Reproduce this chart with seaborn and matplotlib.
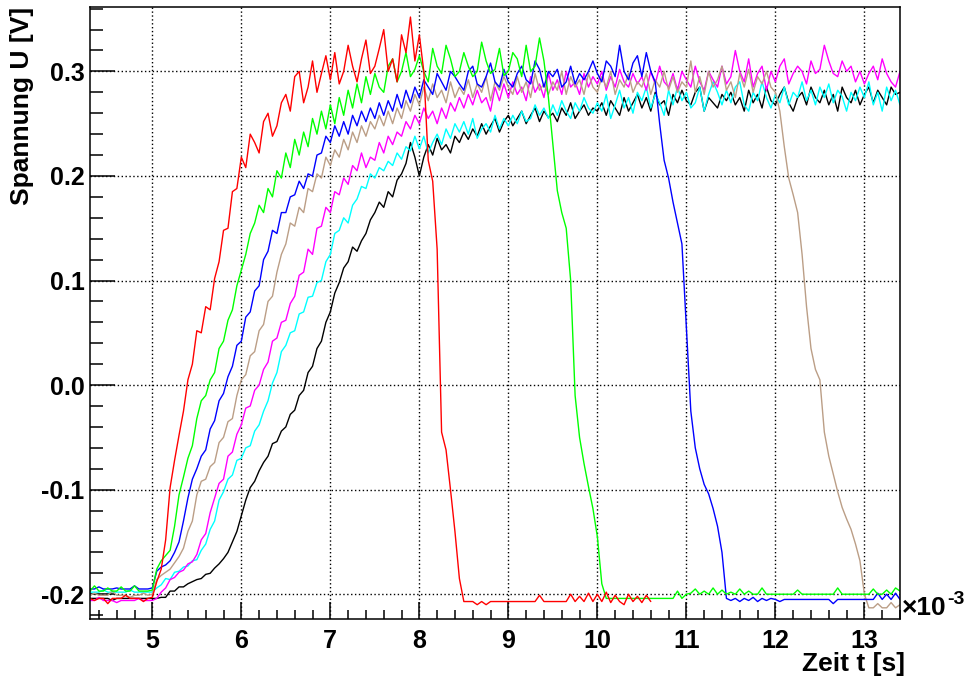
import matplotlib.pyplot as plt
import numpy as np
import pandas as pd
import seaborn as sns
from matplotlib.ticker import MultipleLocator, FormatStrFormatter

sns.set_style('ticks')
plt.rcParams.update(
    {
        'font.family': ['Liberation Sans', 'DejaVu Sans'],
        'font.weight': 'bold',
        'axes.unicode_minus': False,
        'text.color': 'black',
        'axes.edgecolor': 'black',
        'xtick.color': 'black',
        'ytick.color': 'black',
    }
)

# %%
# sampling grid in ms (plotted as 1e-3 s)
t_ms = np.round(np.arange(4.30, 13.4001, 0.05), 2)

# voltages in mV (first 14 values: 4.30-4.95 ms,
# then rows of 10 samples starting at 5.00 ms)
red = [-204, -206, -204, -204, -209, -204, -204, -204, -201, -204, -204, -204, -207, -204,
       -203, -188, -176, -148, -98, -72, -48, -25, 5, 20,
       52, 50, 75, 72, 102, 118, 148, 150, 185, 188,
       218, 208, 240, 232, 222, 252, 260, 238, 248, 270,
       278, 262, 295, 300, 270, 285, 310, 280, 298, 315,
       292, 318, 288, 300, 325, 305, 290, 312, 330, 298,
       305, 322, 340, 300, 312, 290, 335, 318, 352, 310,
       335, 300, 215, 195, 130, -45, -62, -100, -140, -185,
       -207, -207, -207, -210, -207, -210, -207, -207, -207, -207,
       -207, -207, -207, -207, -207, -207, -207, -201, -207, -207,
       -207, -207, -207, -207, -200, -207, -202, -207, -199, -207,
       -200, -207, -198, -208, -201, -207, -210, -200, -207, -202,
       -208, -201, -207]

green = [-197, -192, -197, -197, -194, -197, -197, -193, -197, -197, -192, -197, -197, -197,
         -196, -176, -168, -163, -158, -135, -105, -88, -70, -58,
         -32, -15, -10, 5, 12, 35, 42, 62, 72, 95,
         110, 125, 145, 155, 172, 165, 188, 180, 205, 198,
         222, 208, 235, 220, 242, 228, 255, 240, 262, 245,
         268, 250, 275, 258, 282, 265, 288, 270, 295, 278,
         298, 285, 280, 305, 312, 290, 300, 318, 295, 302,
         315, 300, 290, 322, 305, 298, 325, 312, 295, 300,
         318, 305, 295, 300, 328, 310, 298, 302, 322, 296,
         300, 318, 312, 295, 325, 300, 305, 332, 310, 275,
         230, 186, 165, 150, 100, -10, -50, -75, -97, -118,
         -145, -190, -204, -204, -204, -204, -204, -204, -204, -204,
         -204, -204, -204, -204, -204, -204, -204, -204, -197, -204,
         -200, -199, -195, -200, -197, -200, -194, -200, -196, -200,
         -198, -200, -195, -200, -197, -200, -200, -194, -200, -200,
         -200, -200, -200, -200, -200, -196, -200, -200, -200, -200,
         -200, -200, -200, -200, -194, -200, -200, -200, -200, -200,
         -200, -200, -195, -200, -200, -196, -200, -194, -197]

blue = [-195, -195, -193, -195, -195, -195, -194, -195, -195, -195, -192, -195, -195, -195,
        -194, -178, -174, -172, -168, -160, -150, -130, -108, -90,
        -80, -68, -62, -42, -34, -15, -8, 8, 18, 38,
        42, 65, 70, 90, 95, 120, 128, 148, 145, 165,
        165, 180, 182, 195, 188, 202, 200, 220, 222, 238,
        232, 248, 238, 252, 240, 258, 248, 262, 252, 265,
        255, 270, 258, 272, 262, 278, 265, 282, 270, 285,
        275, 292, 285, 278, 298, 290, 282, 300, 295, 288,
        282, 300, 305, 288, 285, 295, 308, 290, 285, 302,
        290, 285, 298, 305, 292, 288, 310, 302, 285, 300,
        295, 302, 285, 290, 305, 288, 298, 292, 300, 310,
        298, 290, 310, 305, 295, 325, 300, 292, 308, 315,
        295, 318, 300, 290, 250, 215, 198, 175, 155, 135,
        55, -25, -60, -80, -95, -104, -118, -135, -160, -204,
        -206, -204, -207, -204, -206, -203, -207, -204, -206, -204,
        -205, -207, -205, -205, -205, -205, -205, -205, -205, -205,
        -205, -205, -205, -209, -205, -205, -205, -205, -205, -205,
        -205, -205, -205, -199, -205, -200, -205, -199, -205]

tan = [-201, -199, -201, -201, -201, -197, -201, -201, -201, -203, -201, -201, -199, -201,
       -200, -186, -182, -179, -176, -170, -164, -156, -140, -130,
       -105, -92, -90, -78, -74, -55, -50, -35, -32, -10,
       5, 10, 28, 32, 52, 58, 80, 85, 108, 125,
       135, 155, 152, 170, 165, 188, 185, 202, 198, 218,
       210, 225, 218, 235, 225, 242, 232, 248, 238, 252,
       245, 258, 248, 262, 250, 265, 255, 272, 262, 278,
       268, 285, 272, 288, 275, 282, 270, 290, 275, 285,
       278, 292, 275, 288, 280, 295, 272, 290, 282, 295,
       285, 278, 295, 280, 290, 275, 298, 282, 288, 278,
       290, 282, 300, 278, 295, 285, 292, 278, 298, 285,
       280, 295, 285, 300, 278, 292, 285, 298, 280, 290,
       285, 298, 278, 292, 285, 300, 282, 295, 280, 290,
       285, 310, 280, 295, 278, 300, 285, 292, 305, 282,
       290, 275, 298, 285, 302, 280, 295, 288, 300, 285,
       280, 262, 228, 198, 182, 165, 125, 75, 35, 15,
       5, -45, -68, -85, -102, -117, -128, -138, -152, -168,
       -200, -213, -213, -209, -213, -213, -208, -213, -210]

magenta = [-206, -206, -203, -206, -206, -206, -208, -206, -206, -206, -206, -204, -206, -206,
           -206, -204, -198, -194, -186, -184, -179, -177, -171, -169,
           -162, -148, -142, -122, -108, -94, -90, -68, -64, -47,
           -38, -22, -20, -5, 0, 15, 22, 42, 45, 60,
           62, 78, 85, 105, 108, 130, 125, 150, 152, 170,
           165, 185, 182, 198, 192, 210, 205, 222, 208, 218,
           215, 232, 222, 238, 230, 242, 238, 252, 245, 258,
           250, 265, 255, 262, 250, 265, 255, 270, 262, 275,
           265, 278, 268, 282, 270, 275, 262, 285, 272, 288,
           275, 290, 278, 285, 272, 295, 280, 288, 275, 298,
           282, 292, 278, 300, 285, 290, 278, 298, 285, 295,
           288, 300, 282, 295, 285, 302, 290, 285, 298, 288,
           295, 282, 300, 288, 305, 290, 285, 298, 282, 300,
           292, 285, 305, 290, 282, 300, 292, 285, 305, 288,
           295, 320, 300, 290, 312, 285, 298, 305, 282, 300,
           290, 305, 312, 288, 298, 305, 300, 288, 310, 298,
           302, 325, 310, 298, 295, 310, 300, 305, 290, 300,
           288, 298, 305, 292, 312, 298, 290, 285, 300]

cyan = [-198, -198, -198, -196, -198, -198, -198, -198, -198, -196, -198, -198, -198, -198,
        -198, -194, -191, -185, -186, -179, -178, -174, -173, -168,
        -167, -158, -152, -138, -130, -110, -102, -90, -86, -72,
        -70, -60, -58, -44, -38, -25, -15, 2, 12, 32,
        38, 50, 52, 68, 70, 84, 85, 98, 100, 118,
        125, 145, 148, 160, 155, 172, 178, 190, 188, 202,
        198, 208, 205, 214, 210, 222, 216, 228, 224, 238,
        226, 238, 222, 232, 240, 230, 245, 236, 250, 242,
        252, 240, 255, 236, 245, 250, 242, 258, 245, 255,
        248, 258, 250, 262, 252, 255, 268, 258, 265, 255,
        268, 258, 272, 262, 255, 270, 262, 275, 265, 260,
        270, 262, 278, 255, 268, 282, 265, 275, 260, 280,
        272, 285, 265, 278, 270, 258, 282, 268, 285, 272,
        280, 265, 270, 285, 262, 278, 290, 280, 268, 282,
        270, 285, 290, 268, 262, 280, 272, 290, 275, 265,
        278, 270, 285, 268, 280, 275, 290, 272, 282, 268,
        285, 275, 288, 270, 282, 276, 262, 280, 272, 285,
        275, 290, 268, 280, 262, 285, 272, 282, 268]

black = [-204, -204, -204, -204, -204, -206, -204, -204, -204, -204, -204, -204, -204, -204,
         -204, -204, -203, -203, -197, -197, -193, -193, -190, -188,
         -186, -185, -181, -180, -175, -171, -166, -160, -150, -140,
         -125, -110, -98, -92, -82, -74, -68, -56, -54, -44,
         -40, -28, -24, -10, -5, 12, 18, 35, 42, 60,
         70, 88, 98, 112, 118, 132, 128, 138, 145, 158,
         165, 175, 170, 185, 180, 196, 202, 212, 232, 218,
         200, 218, 230, 220, 236, 225, 230, 222, 238, 232,
         242, 235, 245, 238, 250, 240, 248, 255, 242, 252,
         258, 248, 255, 262, 250, 258, 265, 252, 262, 256,
         260, 252, 265, 258, 270, 255, 262, 268, 258, 265,
         262, 270, 258, 272, 265, 258, 275, 262, 270, 278,
         265, 275, 262, 280, 268, 272, 258, 278, 270, 282,
         272, 268, 280, 285, 262, 275, 270, 265, 278, 272,
         280, 268, 275, 262, 282, 270, 278, 265, 285, 272,
         268, 278, 285, 270, 262, 275, 280, 268, 285, 275,
         270, 282, 268, 278, 262, 285, 275, 270, 282, 268,
         278, 285, 270, 282, 275, 268, 285, 278, 280]

traces = {
    'black': black,
    'cyan': cyan,
    'magenta': magenta,
    'tan': tan,
    'blue': blue,
    'green': green,
    'red': red,
}
palette = {
    'black': '#000000',
    'cyan': '#00ffff',
    'magenta': '#ff00ff',
    'tan': '#bb9e86',
    'blue': '#0000ff',
    'green': '#00ff00',
    'red': '#ff0000',
}

frames = []
for name, vals in traces.items():
    n = len(vals)
    frames.append(
        pd.DataFrame({'t': t_ms[:n], 'U': np.array(vals) / 1000.0, 'trace': name})
    )
df = pd.concat(frames, ignore_index=True)

# %%
fig = plt.figure(figsize=(9.69, 6.81), dpi=100)
ax = fig.add_axes([90 / 969, 62 / 681, 810 / 969, 612 / 681])

sns.lineplot(
    data=df,
    x='t',
    y='U',
    hue='trace',
    hue_order=list(traces.keys()),
    palette=palette,
    estimator=None,
    sort=False,
    lw=1.0,
    legend=False,
    ax=ax,
)

ax.set_xlim(4.30, 13.40)
ax.set_ylim(-0.2237, 0.3616)
ax.xaxis.set_major_locator(MultipleLocator(1))
ax.xaxis.set_minor_locator(MultipleLocator(0.2))
ax.yaxis.set_major_locator(MultipleLocator(0.1))
ax.yaxis.set_minor_locator(MultipleLocator(0.02))
ax.xaxis.set_major_formatter(FormatStrFormatter('%d'))
ax.yaxis.set_major_formatter(FormatStrFormatter('%.1f'))

ax.tick_params(axis='both', which='both', direction='in', width=1.1,
               top=False, right=False, labelsize=18)
ax.tick_params(axis='x', which='major', length=12.5, pad=7)
ax.tick_params(axis='x', which='minor', length=6.5)
ax.tick_params(axis='y', which='major', length=18, pad=4)
ax.tick_params(axis='y', which='minor', length=9.4)
for lab in ax.get_xticklabels() + ax.get_yticklabels():
    lab.set_fontweight('bold')

for sp in ax.spines.values():
    sp.set_visible(True)
    sp.set_linewidth(1.1)
    sp.set_color('black')

ax.grid(True, which='major', color='black', ls=(0, (1, 1.8)), lw=1.0)
ax.set_xlabel('')
ax.set_ylabel('')

fig.text(22 / 969, 1 - 7 / 681, 'Spannung U [V]', rotation=90, ha='center',
         va='top', fontsize=19, fontweight='bold')
fig.text(905 / 969, 1 - 664 / 681, 'Zeit t [s]', ha='right', va='center',
         fontsize=19, fontweight='bold')
fig.text(902 / 969, 1 - 615 / 681, '\u00d710', ha='left', va='baseline',
         fontsize=19, fontweight='bold')
fig.text(947 / 969, 1 - 604 / 681, '-3', ha='left', va='baseline',
         fontsize=14, fontweight='bold')

fig.savefig('out.png', dpi=100)
